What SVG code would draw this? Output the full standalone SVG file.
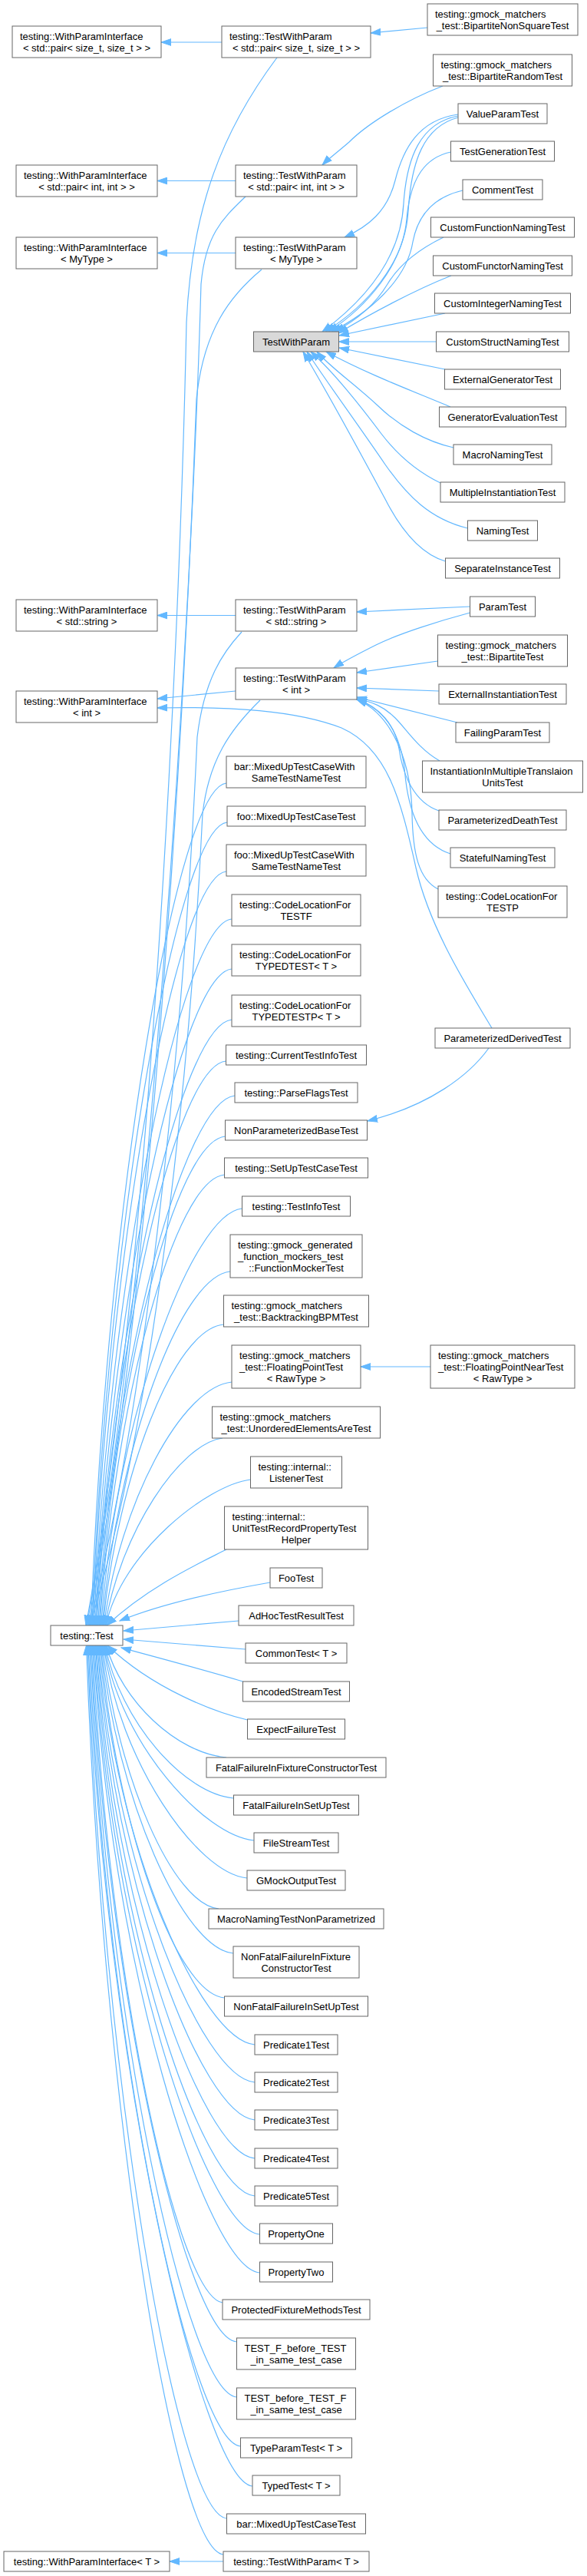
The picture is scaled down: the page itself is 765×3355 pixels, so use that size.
<svg xmlns="http://www.w3.org/2000/svg" width="765" height="3355" viewBox="0 0 765 3355">
<style>
.n rect{fill:#fff;stroke:#666;stroke-width:1}
.g rect{fill:#d9d9d9}
text{font-family:"Liberation Sans",Arial,Helvetica,sans-serif;font-size:13px;fill:#000}
.c{text-anchor:middle}
#edges path{fill:none;stroke:#63b8ff;stroke-width:1.2;marker-end:url(#a)}
</style>
<defs>
<marker id="a" markerUnits="userSpaceOnUse" markerWidth="14" markerHeight="10" refX="13" refY="5" orient="auto" viewBox="0 0 14 10"><path d="M0,0.6 L13,5 L0,9.4 z" fill="#63b8ff" stroke="#63b8ff" stroke-width="1"/></marker>
</defs>
<rect width="765" height="3355" fill="#fff"/>
<g id="edges">
<path d="M289,55 L210,55"/>
<path d="M307,235.5 L205,235.5"/>
<path d="M307,329.5 L205,329.5"/>
<path d="M307,801.5 L205,801.5"/>
<path d="M307,900 L205,910"/>
<path d="M291,3336 L221,3336"/>
<path d="M561,1780 L470,1780"/>
<path d="M557,36 L483,43"/>
<path d="M612.5,790 L465,797"/>
<path d="M570.5,861 L465,876"/>
<path d="M572,900 L465,896"/>
<path d="M596,941 L465,908"/>
<path d="M580,408 L442,437"/>
<path d="M568.5,445 L441.5,445"/>
<path d="M580,481 L442,453"/>
<path d="M577,112 C530,130 480,160 455,185 C440,198 428,207 420,215"/>
<path d="M597,149 C545,156 525,195 515,235 C505,275 480,295 449,309"/>
<path d="M597,151 C548,160 530,205 526,265 C522,340 470,395 420,432"/>
<path d="M597,153 C552,165 536,210 532,275 C528,345 475,400 424,432"/>
<path d="M587.5,198 C555,205 535,230 530,285 C525,345 478,400 428,432"/>
<path d="M603,248 C568,256 545,278 538,315 C530,365 480,408 432,432"/>
<path d="M578,309 C545,325 520,345 505,370 C490,395 465,417 436,432"/>
<path d="M588,359 C540,378 480,410 441,434"/>
<path d="M587,530 C545,512 480,488 425,458"/>
<path d="M591,583 C555,575 520,555 492,528 C462,500 430,478 413,458"/>
<path d="M574,629 C545,615 520,595 497,565 C467,525 432,482 405,458"/>
<path d="M609.5,688 C560,676 530,645 502,605 C468,555 422,492 400,458"/>
<path d="M580.5,731 C550,722 525,695 502,650 C467,585 420,500 395,458"/>
<path d="M612.5,798 C575,808 520,825 490,840 C470,850 450,860 435,870"/>
<path d="M573,991 C545,975 530,950 515,935 C500,920 485,914 465,910"/>
<path d="M572,1056 C540,1045 525,1010 520,975 C515,945 495,920 465,911"/>
<path d="M587,1112 C550,1100 533,1060 528,1010 C524,960 505,925 465,911"/>
<path d="M571,1158 C545,1145 538,1110 537,1060 C536,990 510,930 465,911"/>
<path d="M641,1339 C612,1290 560,1210 542,1130 C522,1040 505,975 445,948 C385,925 300,920 205,922"/>
<path d="M637,1365 C612,1400 560,1440 479,1460"/>
<path d="M361,75 C290,170 250,270 243,420 C233,900 190,1700 112,2117"/>
<path d="M320,256 C290,285 268,305 262,370 C250,800 195,1700 113,2117"/>
<path d="M341,351 C300,385 265,430 256,520 C242,900 198,1700 115,2117"/>
<path d="M315,823 C290,850 266,885 257,960 C242,1300 198,1800 116,2117"/>
<path d="M339,912 C300,950 272,990 264,1060 C248,1400 200,1850 117,2117"/>
<path d="M295,1020 C230,1026 138.5,1568.5 118.5,2117"/>
<path d="M296,1071 C231,1077 140,1594 120,2117"/>
<path d="M295,1135 C230,1141 141,1626 121,2117"/>
<path d="M302,1197 C237,1203 142.5,1657 122.5,2117"/>
<path d="M302,1262 C237,1268 144,1689.5 124,2117"/>
<path d="M302,1328 C237,1334 145,1722.5 125,2117"/>
<path d="M294.5,1382 C229.5,1388 146,1749.5 126,2117"/>
<path d="M306,1427 C241,1433 147.5,1772 127.5,2117"/>
<path d="M293.5,1480 C228.5,1486 149,1798.5 129,2117"/>
<path d="M292.5,1530 C227.5,1536 150,1823.5 130,2117"/>
<path d="M315.5,1574 C250.5,1580 151.5,1845.5 131.5,2117"/>
<path d="M300,1656 C235,1662 153,1886.5 133,2117"/>
<path d="M291.5,1725 C226.5,1731 154,1921 134,2117"/>
<path d="M302,1800 C237,1806 155.5,1958.5 135.5,2117"/>
<path d="M290,1873 C235,1880 157,1995 137,2117"/>
<path d="M326.5,1927 C270,1934 158,2022 138,2117"/>
<path d="M295,2018 C262,2035 195,2065 139,2117"/>
<path d="M352,2061 C300,2070 220,2085 156,2111"/>
<path d="M311,2111 L161,2124"/>
<path d="M320,2148 L161,2135"/>
<path d="M316.5,2190 C270,2176 210,2160 158,2146"/>
<path d="M322.5,2240 C280,2230 200,2200 140,2143"/>
<path d="M295,2289 C230,2283 158.5,2215.5 138.5,2143"/>
<path d="M304.5,2342 C239.5,2336 157,2242 137,2143"/>
<path d="M331,2397 C266,2391 156,2269.5 136,2143"/>
<path d="M322,2446 C257,2440 155,2294 135,2143"/>
<path d="M285,2486 C225,2480 153.5,2314 133.5,2143"/>
<path d="M304,2544 C239,2538 152,2343 132,2143"/>
<path d="M292.5,2602 C227.5,2596 151,2372 131,2143"/>
<path d="M332,2663 C262,2657 149.5,2402.5 129.5,2143"/>
<path d="M332,2712 C262,2706 148,2427 128,2143"/>
<path d="M332,2761 C262,2755 147,2451.5 127,2143"/>
<path d="M332,2811 C262,2805 145.5,2476.5 125.5,2143"/>
<path d="M332,2860 C262,2854 144.5,2501 124.5,2143"/>
<path d="M338.5,2910 C268.5,2904 143,2526 123,2143"/>
<path d="M338.5,2960 C268.5,2954 142,2551 122,2143"/>
<path d="M290,2999 C230,2990 140.5,2570.5 120.5,2143"/>
<path d="M308.5,3050 C243.5,3044 139,2596 119,2143"/>
<path d="M308.5,3122 C243.5,3116 138,2632 118,2143"/>
<path d="M313.5,3186 C248.5,3180 136.5,2664 116.5,2143"/>
<path d="M329,3238 C264,3232 135,2690 115,2143"/>
<path d="M295.5,3280 C230.5,3274 134,2711 114,2143"/>
<path d="M291,3327 C226,3320 133,2734.5 112.5,2143"/>
</g>
<g id="n_wpi_sz" class="n"><rect x="16" y="34" width="194" height="41"/><text x="26" y="52">testing::WithParamInterface</text><text class="c" x="113" y="67">&lt; std::pair&lt; size_t, size_t &gt; &gt;</text></g>
<g id="n_wpi_pii" class="n"><rect x="21" y="215" width="184" height="41"/><text x="31" y="233">testing::WithParamInterface</text><text class="c" x="113" y="248">&lt; std::pair&lt; int, int &gt; &gt;</text></g>
<g id="n_wpi_my" class="n"><rect x="21" y="309" width="184" height="41"/><text x="31" y="327">testing::WithParamInterface</text><text class="c" x="113" y="342">&lt; MyType &gt;</text></g>
<g id="n_wpi_str" class="n"><rect x="21" y="781" width="184" height="41"/><text x="31" y="799">testing::WithParamInterface</text><text class="c" x="113" y="814">&lt; std::string &gt;</text></g>
<g id="n_wpi_int" class="n"><rect x="21" y="900" width="184" height="41"/><text x="31" y="918">testing::WithParamInterface</text><text class="c" x="113" y="933">&lt; int &gt;</text></g>
<g id="n_test" class="n"><rect x="66" y="2117" width="94" height="26"/><text class="c" x="113" y="2134.5">testing::Test</text></g>
<g id="n_wpi_t" class="n"><rect x="5" y="3323" width="216" height="26"/><text class="c" x="113" y="3340.5">testing::WithParamInterface&lt; T &gt;</text></g>
<g id="n_twp_sz" class="n"><rect x="289" y="34" width="194" height="41"/><text x="299" y="52">testing::TestWithParam</text><text class="c" x="386" y="67">&lt; std::pair&lt; size_t, size_t &gt; &gt;</text></g>
<g id="n_twp_pii" class="n"><rect x="307" y="215" width="158" height="41"/><text x="317" y="233">testing::TestWithParam</text><text class="c" x="386" y="248">&lt; std::pair&lt; int, int &gt; &gt;</text></g>
<g id="n_twp_my" class="n"><rect x="307" y="309" width="158" height="41"/><text x="317" y="327">testing::TestWithParam</text><text class="c" x="386" y="342">&lt; MyType &gt;</text></g>
<g id="n_twp" class="n g"><rect x="330.5" y="432" width="111" height="26"/><text class="c" x="386" y="449.5">TestWithParam</text></g>
<g id="n_twp_str" class="n"><rect x="307" y="781" width="158" height="41"/><text x="317" y="799">testing::TestWithParam</text><text class="c" x="386" y="814">&lt; std::string &gt;</text></g>
<g id="n_twp_int" class="n"><rect x="307" y="870" width="158" height="41"/><text x="317" y="888">testing::TestWithParam</text><text class="c" x="386" y="903">&lt; int &gt;</text></g>
<g id="n_bar_same" class="n"><rect x="295" y="985" width="182" height="41"/><text x="305" y="1003">bar::MixedUpTestCaseWith</text><text class="c" x="386" y="1018">SameTestNameTest</text></g>
<g id="n_foo_case" class="n"><rect x="296" y="1050" width="180" height="26"/><text class="c" x="386" y="1067.5">foo::MixedUpTestCaseTest</text></g>
<g id="n_foo_same" class="n"><rect x="295" y="1100" width="182" height="41"/><text x="305" y="1118">foo::MixedUpTestCaseWith</text><text class="c" x="386" y="1133">SameTestNameTest</text></g>
<g id="n_cl_testf" class="n"><rect x="302" y="1165" width="168" height="41"/><text x="312" y="1183">testing::CodeLocationFor</text><text class="c" x="386" y="1198">TESTF</text></g>
<g id="n_cl_typed" class="n"><rect x="302" y="1230" width="168" height="41"/><text x="312" y="1248">testing::CodeLocationFor</text><text class="c" x="386" y="1263">TYPEDTEST&lt; T &gt;</text></g>
<g id="n_cl_typedp" class="n"><rect x="302" y="1296" width="168" height="41"/><text x="312" y="1314">testing::CodeLocationFor</text><text class="c" x="386" y="1329">TYPEDTESTP&lt; T &gt;</text></g>
<g id="n_curinfo" class="n"><rect x="294.5" y="1361" width="183" height="26"/><text class="c" x="386" y="1378.5">testing::CurrentTestInfoTest</text></g>
<g id="n_parse" class="n"><rect x="306" y="1410" width="160" height="26"/><text class="c" x="386" y="1427.5">testing::ParseFlagsTest</text></g>
<g id="n_nonparam" class="n"><rect x="293.5" y="1459" width="185" height="26"/><text class="c" x="386" y="1476.5">NonParameterizedBaseTest</text></g>
<g id="n_setup" class="n"><rect x="292.5" y="1508" width="187" height="26"/><text class="c" x="386" y="1525.5">testing::SetUpTestCaseTest</text></g>
<g id="n_testinfo" class="n"><rect x="315.5" y="1558" width="141" height="26"/><text class="c" x="386" y="1575.5">testing::TestInfoTest</text></g>
<g id="n_fmock" class="n"><rect x="300" y="1608" width="172" height="56"/><text x="310" y="1626">testing::gmock_generated</text><text x="310" y="1641">_function_mockers_test</text><text class="c" x="386" y="1656">::FunctionMockerTest</text></g>
<g id="n_bt" class="n"><rect x="291.5" y="1687" width="189" height="41"/><text x="301.5" y="1705">testing::gmock_matchers</text><text class="c" x="386" y="1720">_test::BacktrackingBPMTest</text></g>
<g id="n_fp" class="n"><rect x="302" y="1752" width="168" height="56"/><text x="312" y="1770">testing::gmock_matchers</text><text x="312" y="1785">_test::FloatingPointTest</text><text class="c" x="386" y="1800">&lt; RawType &gt;</text></g>
<g id="n_uea" class="n"><rect x="276.5" y="1832" width="219" height="41"/><text x="286.5" y="1850">testing::gmock_matchers</text><text class="c" x="386" y="1865">_test::UnorderedElementsAreTest</text></g>
<g id="n_listener" class="n"><rect x="326.5" y="1897" width="119" height="41"/><text x="336.5" y="1915">testing::internal::</text><text class="c" x="386" y="1930">ListenerTest</text></g>
<g id="n_utrp" class="n"><rect x="292.5" y="1962" width="187" height="56"/><text x="302.5" y="1980">testing::internal::</text><text x="302.5" y="1995">UnitTestRecordPropertyTest</text><text class="c" x="386" y="2010">Helper</text></g>
<g id="n_foo" class="n"><rect x="352" y="2042" width="68" height="26"/><text class="c" x="386" y="2059.5">FooTest</text></g>
<g id="n_adhoc" class="n"><rect x="311" y="2091" width="150" height="26"/><text class="c" x="386" y="2108.5">AdHocTestResultTest</text></g>
<g id="n_common" class="n"><rect x="320" y="2140" width="132" height="26"/><text class="c" x="386" y="2157.5">CommonTest&lt; T &gt;</text></g>
<g id="n_encoded" class="n"><rect x="316.5" y="2190" width="139" height="26"/><text class="c" x="386" y="2207.5">EncodedStreamTest</text></g>
<g id="n_expect" class="n"><rect x="322.5" y="2239" width="127" height="26"/><text class="c" x="386" y="2256.5">ExpectFailureTest</text></g>
<g id="n_ffctor" class="n"><rect x="269" y="2289" width="234" height="26"/><text class="c" x="386" y="2306.5">FatalFailureInFixtureConstructorTest</text></g>
<g id="n_ffsetup" class="n"><rect x="304.5" y="2338" width="163" height="26"/><text class="c" x="386" y="2355.5">FatalFailureInSetUpTest</text></g>
<g id="n_filestream" class="n"><rect x="331" y="2387" width="110" height="26"/><text class="c" x="386" y="2404.5">FileStreamTest</text></g>
<g id="n_gmockout" class="n"><rect x="322" y="2436" width="128" height="26"/><text class="c" x="386" y="2453.5">GMockOutputTest</text></g>
<g id="n_macro_np" class="n"><rect x="272" y="2486" width="228" height="26"/><text class="c" x="386" y="2503.5">MacroNamingTestNonParametrized</text></g>
<g id="n_nfctor" class="n"><rect x="304" y="2535" width="164" height="41"/><text x="314" y="2553">NonFatalFailureInFixture</text><text class="c" x="386" y="2568">ConstructorTest</text></g>
<g id="n_nfsetup" class="n"><rect x="292.5" y="2600" width="187" height="26"/><text class="c" x="386" y="2617.5">NonFatalFailureInSetUpTest</text></g>
<g id="n_pred1" class="n"><rect x="332" y="2650" width="108" height="26"/><text class="c" x="386" y="2667.5">Predicate1Test</text></g>
<g id="n_pred2" class="n"><rect x="332" y="2699" width="108" height="26"/><text class="c" x="386" y="2716.5">Predicate2Test</text></g>
<g id="n_pred3" class="n"><rect x="332" y="2748" width="108" height="26"/><text class="c" x="386" y="2765.5">Predicate3Test</text></g>
<g id="n_pred4" class="n"><rect x="332" y="2798" width="108" height="26"/><text class="c" x="386" y="2815.5">Predicate4Test</text></g>
<g id="n_pred5" class="n"><rect x="332" y="2847" width="108" height="26"/><text class="c" x="386" y="2864.5">Predicate5Test</text></g>
<g id="n_prop1" class="n"><rect x="338.5" y="2896" width="95" height="26"/><text class="c" x="386" y="2913.5">PropertyOne</text></g>
<g id="n_prop2" class="n"><rect x="338.5" y="2946" width="95" height="26"/><text class="c" x="386" y="2963.5">PropertyTwo</text></g>
<g id="n_protected" class="n"><rect x="290" y="2995" width="192" height="26"/><text class="c" x="386" y="3012.5">ProtectedFixtureMethodsTest</text></g>
<g id="n_tfbt" class="n"><rect x="308.5" y="3045" width="155" height="41"/><text x="318.5" y="3063">TEST_F_before_TEST</text><text class="c" x="386" y="3078">_in_same_test_case</text></g>
<g id="n_tbtf" class="n"><rect x="308.5" y="3110" width="155" height="41"/><text x="318.5" y="3128">TEST_before_TEST_F</text><text class="c" x="386" y="3143">_in_same_test_case</text></g>
<g id="n_typeparam" class="n"><rect x="313.5" y="3175" width="145" height="26"/><text class="c" x="386" y="3192.5">TypeParamTest&lt; T &gt;</text></g>
<g id="n_typed" class="n"><rect x="329" y="3224" width="114" height="26"/><text class="c" x="386" y="3241.5">TypedTest&lt; T &gt;</text></g>
<g id="n_bar_case" class="n"><rect x="295.5" y="3274" width="181" height="26"/><text class="c" x="386" y="3291.5">bar::MixedUpTestCaseTest</text></g>
<g id="n_twp_t" class="n"><rect x="291" y="3323" width="190" height="26"/><text class="c" x="386" y="3340.5">testing::TestWithParam&lt; T &gt;</text></g>
<g id="n_bnst" class="n"><rect x="557" y="5" width="196" height="41"/><text x="567" y="23">testing::gmock_matchers</text><text class="c" x="655" y="38">_test::BipartiteNonSquareTest</text></g>
<g id="n_brt" class="n"><rect x="564.5" y="71" width="181" height="41"/><text x="574.5" y="89">testing::gmock_matchers</text><text class="c" x="655" y="104">_test::BipartiteRandomTest</text></g>
<g id="n_vpt" class="n"><rect x="597" y="135" width="116" height="26"/><text class="c" x="655" y="152.5">ValueParamTest</text></g>
<g id="n_tgt" class="n"><rect x="587.5" y="184" width="135" height="26"/><text class="c" x="655" y="201.5">TestGenerationTest</text></g>
<g id="n_comment" class="n"><rect x="603" y="234" width="104" height="26"/><text class="c" x="655" y="251.5">CommentTest</text></g>
<g id="n_cfn" class="n"><rect x="561.5" y="283" width="187" height="26"/><text class="c" x="655" y="300.5">CustomFunctionNamingTest</text></g>
<g id="n_cfun" class="n"><rect x="564.5" y="333" width="181" height="26"/><text class="c" x="655" y="350.5">CustomFunctorNamingTest</text></g>
<g id="n_cint" class="n"><rect x="566.5" y="382" width="177" height="26"/><text class="c" x="655" y="399.5">CustomIntegerNamingTest</text></g>
<g id="n_cstruct" class="n"><rect x="568.5" y="432" width="173" height="26"/><text class="c" x="655" y="449.5">CustomStructNamingTest</text></g>
<g id="n_extgen" class="n"><rect x="579.5" y="481" width="151" height="26"/><text class="c" x="655" y="498.5">ExternalGeneratorTest</text></g>
<g id="n_geneval" class="n"><rect x="572.5" y="530" width="165" height="26"/><text class="c" x="655" y="547.5">GeneratorEvaluationTest</text></g>
<g id="n_macro" class="n"><rect x="591" y="579" width="128" height="26"/><text class="c" x="655" y="596.5">MacroNamingTest</text></g>
<g id="n_multi" class="n"><rect x="574" y="628" width="162" height="26"/><text class="c" x="655" y="645.5">MultipleInstantiationTest</text></g>
<g id="n_naming" class="n"><rect x="609.5" y="678" width="91" height="26"/><text class="c" x="655" y="695.5">NamingTest</text></g>
<g id="n_separate" class="n"><rect x="580.5" y="727" width="149" height="26"/><text class="c" x="655" y="744.5">SeparateInstanceTest</text></g>
<g id="n_param" class="n"><rect x="612.5" y="777" width="85" height="26"/><text class="c" x="655" y="794.5">ParamTest</text></g>
<g id="n_bipartite" class="n"><rect x="570.5" y="827" width="169" height="41"/><text x="580.5" y="845">testing::gmock_matchers</text><text class="c" x="655" y="860">_test::BipartiteTest</text></g>
<g id="n_extinst" class="n"><rect x="572" y="891" width="166" height="26"/><text class="c" x="655" y="908.5">ExternalInstantiationTest</text></g>
<g id="n_failing" class="n"><rect x="594" y="941" width="122" height="26"/><text class="c" x="655" y="958.5">FailingParamTest</text></g>
<g id="n_instmulti" class="n"><rect x="550.5" y="991" width="209" height="41"/><text x="560.5" y="1009">InstantiationInMultipleTranslaion</text><text class="c" x="655" y="1024">UnitsTest</text></g>
<g id="n_death" class="n"><rect x="572" y="1055" width="166" height="26"/><text class="c" x="655" y="1072.5">ParameterizedDeathTest</text></g>
<g id="n_stateful" class="n"><rect x="587" y="1104" width="136" height="26"/><text class="c" x="655" y="1121.5">StatefulNamingTest</text></g>
<g id="n_cl_testp" class="n"><rect x="571" y="1154" width="168" height="41"/><text x="581" y="1172">testing::CodeLocationFor</text><text class="c" x="655" y="1187">TESTP</text></g>
<g id="n_pderived" class="n"><rect x="567" y="1339" width="176" height="26"/><text class="c" x="655" y="1356.5">ParameterizedDerivedTest</text></g>
<g id="n_fpnear" class="n"><rect x="561" y="1752" width="188" height="56"/><text x="571" y="1770">testing::gmock_matchers</text><text x="571" y="1785">_test::FloatingPointNearTest</text><text class="c" x="655" y="1800">&lt; RawType &gt;</text></g>
</svg>
